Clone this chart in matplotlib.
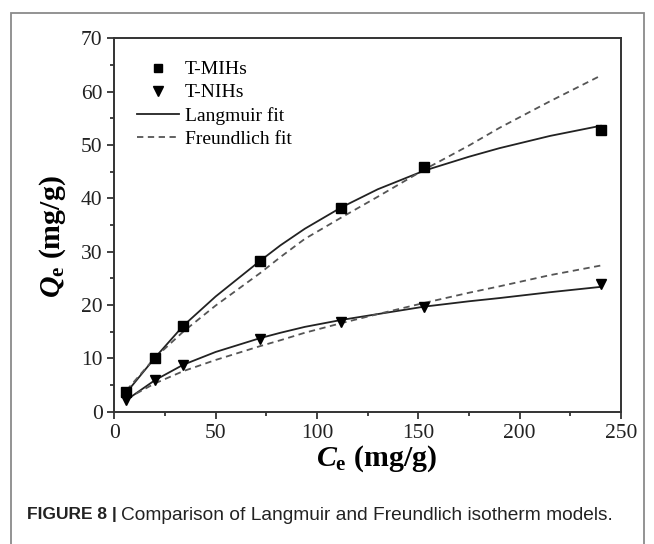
import numpy as np
import matplotlib.pyplot as plt
from matplotlib.lines import Line2D
from matplotlib.patches import Rectangle
from matplotlib.ticker import MultipleLocator

plt.rcParams['font.family'] = ['Liberation Serif', 'DejaVu Serif']
plt.rcParams['mathtext.fontset'] = 'custom'
plt.rcParams['mathtext.rm'] = 'Liberation Serif:bold'
plt.rcParams['mathtext.it'] = 'Liberation Serif:italic:bold'
plt.rcParams['mathtext.bf'] = 'Liberation Serif:bold'

# Datos experimentales
ce = [6, 20, 34, 72, 112, 153, 240]
qe_mihs = [3.7, 10.1, 16.1, 28.2, 38.2, 45.8, 52.8]
qe_nihs = [2.1, 5.9, 8.8, 13.6, 16.8, 19.6, 23.9]

# Curvas de ajuste
ce_fit = [6, 20, 34, 50, 72, 82, 94, 112, 130, 153, 175, 190, 215, 240]
lang_mihs = [3.6, 10.1, 16.1, 21.6, 28.3, 31.2, 34.3, 38.3, 41.7, 45.2, 47.8, 49.4, 51.7, 53.6]
freu_mihs = [4.0, 10.1, 15.0, 19.9, 26.0, 29.0, 32.4, 36.4, 40.3, 45.4, 49.9, 53.2, 58.2, 63.0]
lang_nihs = [2.2, 5.9, 8.8, 11.2, 13.8, 14.8, 15.9, 17.2, 18.3, 19.7, 20.7, 21.3, 22.4, 23.4]
freu_nihs = [2.4, 5.3, 7.6, 9.7, 12.3, 13.4, 14.8, 16.6, 18.3, 20.4, 22.3, 23.5, 25.6, 27.4]

fig = plt.figure(figsize=(6.54, 5.44), dpi=100)
ax = fig.add_axes([0.1748, 0.2432, 0.7747, 0.6864])

dark = '#222222'
ax.plot(ce_fit, lang_mihs, '-', color=dark, lw=1.3)
ax.plot(ce_fit, lang_nihs, '-', color=dark, lw=1.3)
ax.plot(ce_fit, freu_mihs, '--', color='#555555', lw=1.3, dashes=(3.5, 2.5))
ax.plot(ce_fit, freu_nihs, '--', color='#555555', lw=1.3, dashes=(3.5, 2.5))
ax.plot(ce, qe_mihs, 's', color='black', ms=6.5, ls='none')
ax.plot(ce, qe_nihs, 'v', color='black', ms=7.5, ls='none')

ax.set_xlim(0, 250)
ax.set_ylim(0, 70)
ax.xaxis.set_major_locator(MultipleLocator(50))
ax.xaxis.set_minor_locator(MultipleLocator(25))
ax.yaxis.set_major_locator(MultipleLocator(10))
ax.yaxis.set_minor_locator(MultipleLocator(5))
ax.tick_params(which='both', direction='out', top=False, right=False,
               labelsize=15.5, width=1.2, colors='#222222')
ax.tick_params(which='major', length=5)
ax.tick_params(which='minor', length=3)
for s in ax.spines.values():
    s.set_linewidth(1.4)
    s.set_color('#333333')

ax.set_xlabel(r'$C_\mathbf{e}$ (mg/g)', fontsize=21.5, fontweight='bold', labelpad=1)
ax.set_ylabel(r'$Q_\mathbf{e}$ (mg/g)', fontsize=21.5, fontweight='bold', labelpad=9)
ax.xaxis.set_label_coords(0.517, -0.085)
ax.yaxis.label.set_y(0.468)

handles = [
    Line2D([], [], marker='s', color='black', ls='none', ms=6),
    Line2D([], [], marker='v', color='black', ls='none', ms=7),
    Line2D([], [], color=dark, lw=1.3),
    Line2D([], [], color='#555555', lw=1.3, ls='--', dashes=(3.5, 2.5)),
]
labels = ['T-MIHs', 'T-NIHs', 'Langmuir fit', 'Freundlich fit']
ax.legend(handles, labels, loc='upper left', bbox_to_anchor=(0.045, 0.94),
          frameon=False, fontsize=14, handlelength=2.15, handletextpad=0.3,
          labelspacing=0.28, borderpad=0, borderaxespad=0)

# Marco exterior y pie de figura
fig.add_artist(Rectangle((11 / 654, -0.05), 633 / 654, 1.05 - 13 / 544,
                         transform=fig.transFigure, fill=False,
                         ec='#8a8a8a', lw=1.3))
t1 = fig.text(27 / 654, 1 - 515 / 544, 'FIGURE 8 |', fontsize=12.5,
              fontweight='bold', family='Liberation Sans', va='center',
              color='#222222')
fig.canvas.draw()
bb = t1.get_window_extent()
fig.text((bb.x1 + 4) / 654, 1 - 515 / 544,
         'Comparison of Langmuir and Freundlich isotherm models.',
         fontsize=13.8, family='Liberation Sans', va='center', color='#222222')

fig.savefig('out.png', dpi=100)
